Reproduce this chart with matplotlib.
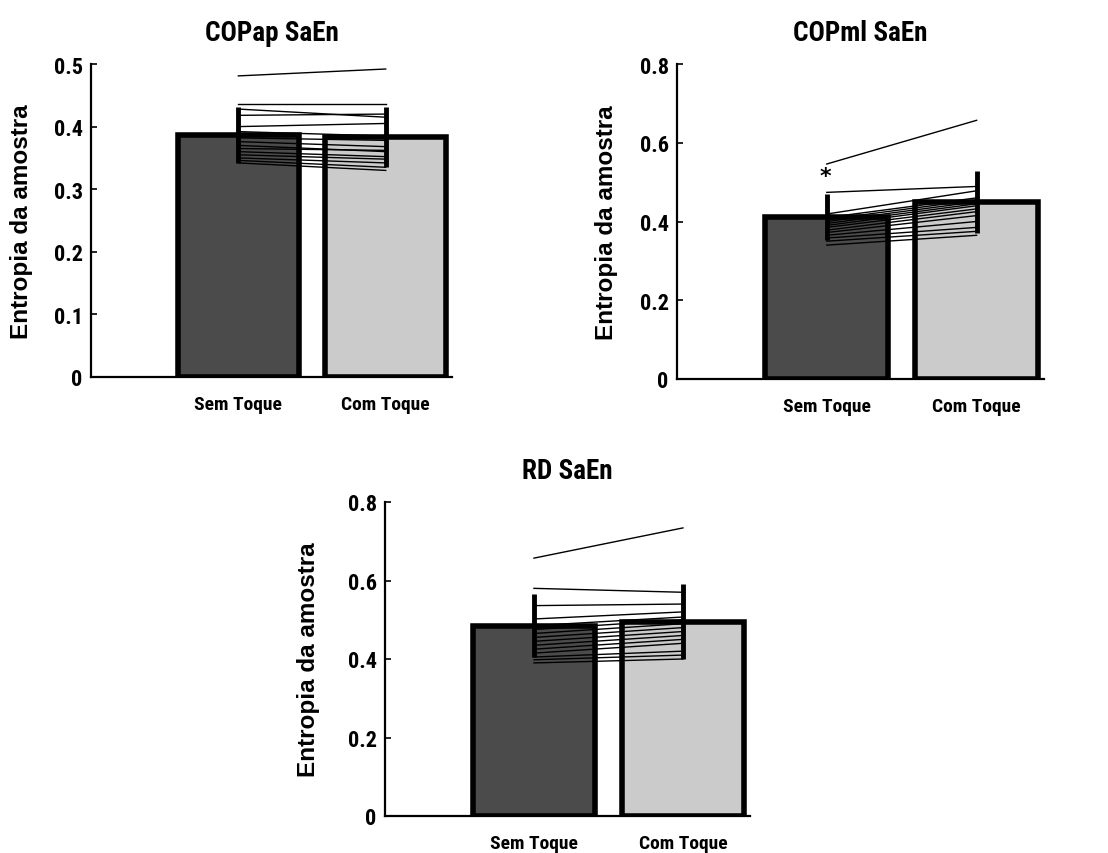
import matplotlib
matplotlib.use("Agg")
import matplotlib.pyplot as plt
from matplotlib import font_manager
import numpy as np

# ---------------- data ----------------
conditions = ["Sem Toque", "Com Toque"]
titles = ["COPap SaEn", "COPml SaEn", "RD SaEn"]
ylabel = "Entropia da amostra"

copap_means = [0.387, 0.383]
copap_sd = [0.045, 0.048]
copap_sem = [0.481, 0.436, 0.428, 0.418, 0.400, 0.392, 0.382, 0.376, 0.370, 0.365,
             0.360, 0.355, 0.350, 0.346, 0.342]
copap_com = [0.492, 0.436, 0.415, 0.420, 0.405, 0.385, 0.378, 0.368, 0.360, 0.362,
             0.352, 0.348, 0.342, 0.335, 0.330]

copml_means = [0.411, 0.449]
copml_sd = [0.058, 0.078]
copml_sem = [0.546, 0.474, 0.419, 0.410, 0.405, 0.400, 0.395, 0.390, 0.385, 0.378,
             0.372, 0.365, 0.358, 0.350, 0.340]
copml_com = [0.657, 0.489, 0.478, 0.460, 0.455, 0.450, 0.445, 0.440, 0.432, 0.425,
             0.415, 0.400, 0.385, 0.375, 0.365]

rd_means = [0.485, 0.495]
rd_sd = [0.080, 0.095]
rd_sem = [0.657, 0.580, 0.536, 0.502, 0.485, 0.475, 0.465, 0.455, 0.445, 0.435,
          0.425, 0.415, 0.405, 0.398, 0.390]
rd_com = [0.734, 0.570, 0.540, 0.520, 0.507, 0.500, 0.490, 0.480, 0.470, 0.460,
          0.450, 0.440, 0.420, 0.410, 0.400]

ylims = [0.5, 0.8, 0.8]
yticks = [[0, 0.1, 0.2, 0.3, 0.4, 0.5], [0, 0.2, 0.4, 0.6, 0.8], [0, 0.2, 0.4, 0.6, 0.8]]
ytick_labels = [["0", "0.1", "0.2", "0.3", "0.4", "0.5"],
                ["0", "0.2", "0.4", "0.6", "0.8"],
                ["0", "0.2", "0.4", "0.6", "0.8"]]
star_value = 0.515  # significance marker on COPml panel

# ---------------- style ----------------
names = {f.name for f in font_manager.fontManager.ttflist}
narrow_name = None
for cand in ["Liberation Sans Narrow", "Roboto Condensed", "DejaVu Sans Condensed",
             "Open Sans Condensed"]:
    if cand in names:
        narrow_name = cand
        break
narrow = ([narrow_name] if narrow_name else []) + ["Roboto", "Liberation Sans", "DejaVu Sans"]
regular = ["Liberation Sans", "DejaVu Sans"]
bar_colors = ["#4b4b4b", "#cbcbcb"]

fig = plt.figure(figsize=(11.08, 8.54), dpi=100)
rects = [
    [91 / 1108, 1 - 378 / 854, (452 - 91) / 1108, (378 - 65) / 854],
    [677 / 1108, 1 - 380 / 854, (1044 - 677) / 1108, (380 - 65) / 854],
    [385 / 1108, 1 - 817 / 854, (750 - 385) / 1108, (817 - 503) / 854],
]
label_x = [-0.16, -0.16, -0.178]

panels = [
    (copap_means, copap_sd, copap_sem, copap_com),
    (copml_means, copml_sd, copml_sem, copml_com),
    (rd_means, rd_sd, rd_sem, rd_com),
]

x = np.array([1, 2])
for i, (means, sd, sem, com) in enumerate(panels):
    ax = fig.add_axes(rects[i])
    ax.bar(x, means, width=0.82, color=bar_colors, edgecolor="black",
           linewidth=4, zorder=1)
    for a, b in zip(sem, com):
        ax.plot(x, [a, b], color="black", linewidth=1.0, zorder=2)
    ax.errorbar(x, means, yerr=sd, fmt="none", ecolor="black",
                elinewidth=3.5, capsize=0, zorder=3)
    ax.set_xlim(0, 2.45)
    ax.set_ylim(0, ylims[i])
    ax.set_yticks(yticks[i])
    ax.set_yticklabels(ytick_labels[i], fontfamily=narrow, fontweight="bold",
                       fontsize=16, fontstretch="condensed")
    ax.set_xticks(x)
    ax.set_xticklabels(conditions, fontfamily=narrow, fontweight="bold",
                       fontsize=14, fontstretch="condensed")
    ax.tick_params(axis="y", direction="in", length=4, width=1.2, pad=6)
    ax.tick_params(axis="x", length=0, pad=13)
    for s in ["top", "right"]:
        ax.spines[s].set_visible(False)
    for s in ["left", "bottom"]:
        ax.spines[s].set_linewidth(1.6)
    ax.set_title(titles[i], fontfamily=narrow, fontweight="bold", fontsize=19.5,
                 pad=17, fontstretch="condensed")
    ax.set_ylabel(ylabel, fontfamily=regular, fontweight="bold", fontsize=17.5)
    ax.yaxis.set_label_coords(label_x[i], 0.5)
    if i == 1:
        ax.text(0.99, star_value, "*", ha="center", va="center",
                fontsize=16, fontweight="bold")

fig.savefig("out.png", dpi=100)
